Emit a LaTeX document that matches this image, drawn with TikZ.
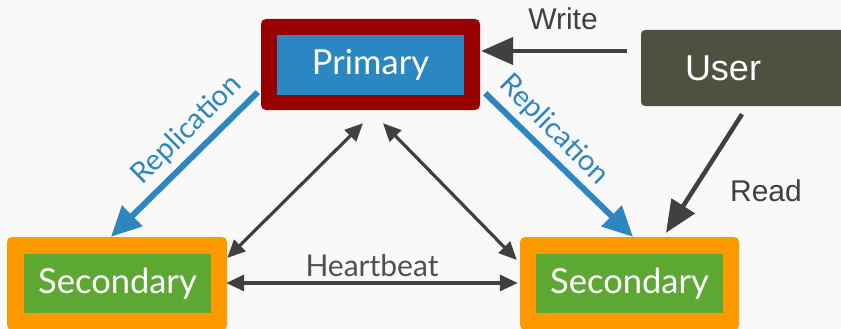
\documentclass[tikz,border=0pt]{standalone}
\usepackage{fontspec}
\setmainfont{Lato}
\newfontfamily\robfont{Liberation Sans}
\usetikzlibrary{arrows.meta,calc}
\definecolor{bgc}{HTML}{F9F9F9}
\definecolor{primred}{HTML}{990000}
\definecolor{primblue}{HTML}{2A87C2}
\definecolor{secorange}{HTML}{FF9900}
\definecolor{secgreen}{HTML}{5DA832}
\definecolor{userc}{HTML}{4E5140}
\definecolor{arrgray}{HTML}{404040}
\definecolor{repblue}{HTML}{2E86C1}
\definecolor{hbgray}{HTML}{505050}
\tikzset{
  outerbox/.style={rounded corners=5pt, inner sep=0pt, minimum width=219pt, minimum height=92pt},
  innerbox/.style={inner sep=0pt, minimum width=187pt, minimum height=59pt, text=white, font=\fontsize{34.5}{40}\selectfont},
  bigarrow/.style={draw=arrgray, line width=4.5pt, -{Triangle[length=32pt,width=27pt]}},
  reparrow/.style={draw=repblue, line width=6pt, -{Triangle[length=30pt,width=28pt]}},
  thinarrow/.style={draw=arrgray, line width=3.2pt, {Triangle[length=18pt,width=16pt]}-{Triangle[length=18pt,width=16pt]}},
  roblabel/.style={text=arrgray, font=\robfont\fontsize{30}{34}\selectfont, inner sep=0pt},
  replabel/.style={text=repblue, font=\fontsize{29}{32}\selectfont, inner sep=0pt},
}
\begin{document}
\begin{tikzpicture}[x=1pt,y=-1pt]
\fill[bgc] (0,0) rectangle (841,329);
\useasboundingbox (0,0) rectangle (841,329);
% primary
\node[outerbox, fill=primred, minimum height=91pt] (prim) at (370.5,64.5) {};
\node[innerbox, fill=primblue, minimum height=60pt] (primin) at (370.5,65) {Primary};
% secondaries
\node[outerbox, fill=secorange, minimum width=220pt, minimum height=93pt] (seca) at (117,283.5) {};
\node[innerbox, fill=secgreen] (secain) at (117.5,283.5) {Secondary};
\node[outerbox, fill=secorange, minimum height=93pt] (secb) at (629.5,283.5) {};
\node[innerbox, fill=secgreen] (secbin) at (629.5,283.5) {Secondary};
% user
\node[fill=userc, rounded corners=4pt, inner sep=0pt, minimum width=214pt, minimum height=76pt] (userbox) at (748,68) {};
\node[text=white, font=\robfont\fontsize{36}{40}\selectfont, inner sep=0pt] (user) at (723,68) {User};
% write / read
\draw[bigarrow] ([xshift=-14pt,yshift=17pt]userbox.west) -- ([xshift=1pt,yshift=13.5pt]prim.east);
\node[roblabel] (writel) at (563,19) {Write};
\draw[bigarrow] ([xshift=-6pt,yshift=-8pt]userbox.south) -- ([xshift=36.5pt,yshift=4pt]secb.north);
\node[roblabel] (readl) at (766,191) {Read};
% replication
\draw[reparrow] ([xshift=-3pt,yshift=18pt]prim.south west) -- ([xshift=-6pt]seca.north);
\draw[reparrow] ([xshift=5pt,yshift=17pt]prim.south east) -- ([xshift=3.5pt]secb.north);
\node[replabel, rotate=44.6] (repa) at (187,130) {Replication};
\node[replabel, rotate=-45] (repb) at (554,130) {Replication};
% heartbeat links
\draw[thinarrow] ([xshift=-7.5pt,yshift=-13pt]prim.south) -- ([yshift=25.5pt]seca.east);
\draw[thinarrow] ([xshift=12.5pt,yshift=-13pt]prim.south) -- ([xshift=-3pt,yshift=23.5pt]secb.west);
\draw[thinarrow] ([xshift=-1pt,yshift=0.5pt]seca.east) -- ([xshift=-2pt,yshift=0.5pt]secb.west);
\node[text=hbgray, font=\fontsize{30}{34}\selectfont, inner sep=0pt] (hb) at (372,266) {Heartbeat};
\end{tikzpicture}
\end{document}
